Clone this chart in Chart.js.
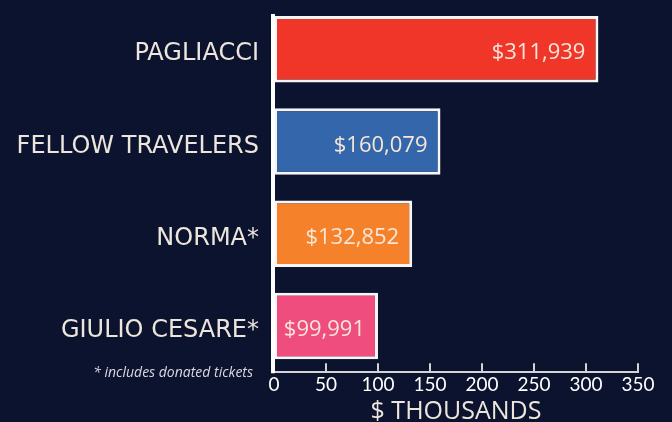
<!DOCTYPE html>
<html>
<head>
<meta charset="utf-8">
<script src="https://cdn.jsdelivr.net/npm/chart.js@4/dist/chart.umd.min.js"></script>
<style>
  html, body { margin: 0; padding: 0; background: #0c132e; }
  #wrap { width: 672px; height: 422px; }
</style>
</head>
<body>
<div id="wrap"><canvas id="opera_chart"></canvas></div>
<script>
// box office by production, in $ thousands
var productions = ['PAGLIACCI', 'FELLOW TRAVELERS', 'NORMA*', 'GIULIO CESARE*'];
var revenue = [311.939, 160.079, 132.852, 99.991];
var barColors = ['#f03628', '#3366aa', '#f5822a', '#ee4d7e'];
var xTicks = [0, 50, 100, 150, 200, 250, 300, 350];
var footnote = '* includes donated tickets';
var axisTitle = '$ THOUSANDS';

function money(v) {
    return '$' + Math.round(v * 1000).toLocaleString('en-US');
}

// value labels, axis marks and the footnote
var extras = {
    id: 'extras',
    afterDatasetsDraw: function(chart) {
        var ctx = chart.ctx;
        var area = chart.chartArea;
        var x = chart.scales.x;
        var bars = chart.getDatasetMeta(0).data;

        ctx.save();
        ctx.font = '22px "Open Sans"';
        ctx.fillStyle = '#f7e6d9';
        ctx.textAlign = 'right';
        ctx.textBaseline = 'middle';
        bars.forEach(function(bar, i) {
            ctx.fillText(money(revenue[i]), bar.x - 13, bar.y + 4);
        });

        // tick marks point up from the axis line
        ctx.strokeStyle = '#d4d4d4';
        ctx.lineWidth = 2;
        xTicks.forEach(function(t) {
            var px = x.getPixelForValue(t);
            ctx.beginPath();
            ctx.moveTo(px, area.bottom);
            ctx.lineTo(px, area.bottom - 9);
            ctx.stroke();
        });

        // white y axis line
        var top = bars[0].y - bars[0].height / 2 - 2;
        ctx.strokeStyle = '#ffffff';
        ctx.lineWidth = 4;
        ctx.beginPath();
        ctx.moveTo(area.left - 1, top);
        ctx.lineTo(area.left - 1, area.bottom + 1);
        ctx.stroke();

        ctx.font = 'italic 14px "Open Sans"';
        ctx.fillStyle = '#d9d9e2';
        ctx.textAlign = 'right';
        ctx.fillText(footnote, area.left - 21, area.bottom + 1);
        ctx.restore();
    }
};

var ctx1 = document.getElementById('opera_chart').getContext('2d');
var myChart1 = new Chart(ctx1, {
    type: 'bar',
    data: {
        labels: productions,
        datasets: [{
            label: 'Revenue',
            data: revenue,
            backgroundColor: barColors,
            borderColor: '#f6f6f6',
            borderWidth: 3,
            borderSkipped: false,
            categoryPercentage: 1,
            barPercentage: 0.72
        }]
    },
    options: {
        indexAxis: 'y',
        responsive: true,
        maintainAspectRatio: false,
        animation: false,
        layout: { padding: { top: 3, right: 34, left: 0, bottom: 0 } },
        plugins: {
            legend: { display: false },
            tooltip: { enabled: false }
        },
        scales: {
            x: {
                min: 0,
                max: 350,
                afterBuildTicks: function(scale) {
                    scale.ticks = xTicks.map(function(v) { return { value: v }; });
                },
                grid: { display: false, drawTicks: false },
                border: { display: true, color: '#d4d4d4', width: 2 },
                ticks: {
                    color: '#ffffff',
                    padding: 1,
                    maxRotation: 0,
                    font: { family: 'Lato', size: 19 }
                },
                title: {
                    display: true,
                    text: axisTitle,
                    color: '#ece6dc',
                    padding: { top: 0, bottom: -5 },
                    font: { family: 'Open Sans', size: 25 }
                }
            },
            y: {
                grid: { display: false, drawTicks: false },
                border: { display: false },
                afterFit: function(scale) {
                    scale.width = 274;
                    scale.paddingTop = 0;
                    scale.paddingBottom = 0;
                },
                ticks: {
                    color: '#ece6dc',
                    padding: 15,
                    labelOffset: 5,
                    font: { family: 'DejaVu Sans', size: 24 }
                }
            }
        }
    },
    plugins: [extras]
});
</script>
</body>
</html>
